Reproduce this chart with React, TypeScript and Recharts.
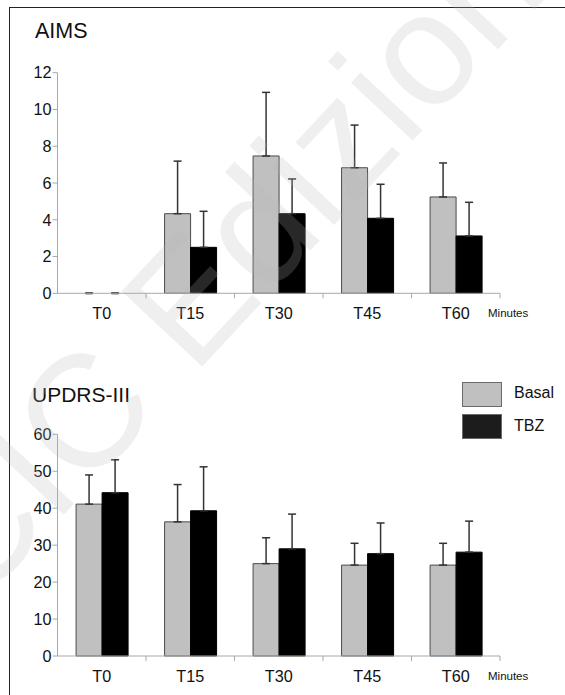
import React from 'react';
import { BarChart, Bar, XAxis, YAxis, ErrorBar, Rectangle } from 'recharts';

const categories = ['T0', 'T15', 'T30', 'T45', 'T60'];

const aimsBasal = [0, 4.33, 7.47, 6.83, 5.24];
const aimsBasalErr = [0, 2.86, 3.46, 2.32, 1.85];
const aimsTbz = [0, 2.5, 4.33, 4.08, 3.12];
const aimsTbzErr = [0, 1.96, 1.89, 1.85, 1.83];
const aimsTicks = [0, 2, 4, 6, 8, 10, 12];

const updrsBasal = [41.1, 36.3, 25.0, 24.6, 24.6];
const updrsBasalErr = [7.9, 10.1, 7.0, 5.9, 5.9];
const updrsTbz = [44.2, 39.3, 29.0, 27.7, 28.1];
const updrsTbzErr = [8.9, 11.9, 9.4, 8.3, 8.4];
const updrsTicks = [0, 10, 20, 30, 40, 50, 60];

const seriesNames = ['Basal', 'TBZ'];

const FONT = '"Liberation Sans", Arial, sans-serif';
const AXIS = '#a8a8a8';
const BASAL_FILL = '#c0c0c0';
const TBZ_FILL = '#000000';
const W = 565;
const MARGIN_LEFT = 17.5;
const MARGIN_RIGHT = 65;
const YAXIS_W = 40;
const LABEL_OFFSET = 14.5;
const TICK_FONT = 16.2;

const build = (b: number[], be: number[], t: number[], te: number[]) =>
  categories.map((c, i) => ({
    cat: c,
    basal: b[i],
    basalErr: [0, be[i]],
    tbz: t[i],
    tbzErr: [0, te[i]],
  }));

const aimsData = build(aimsBasal, aimsBasalErr, aimsTbz, aimsTbzErr);
const updrsData = build(updrsBasal, updrsBasalErr, updrsTbz, updrsTbzErr);

const band = (W - MARGIN_LEFT - MARGIN_RIGHT - YAXIS_W) / categories.length;

const CatTick = (props: any) => {
  const { x, y, payload } = props;
  const axisY = y - LABEL_OFFSET;
  return (
    <g>
      <line x1={x + band / 2} x2={x + band / 2} y1={axisY} y2={axisY + 5} stroke={AXIS} strokeWidth={1} />
      <text x={x} y={y} dy="0.71em" textAnchor="middle" fill="#111" fontSize={TICK_FONT} fontFamily={FONT}>
        {payload.value}
      </text>
    </g>
  );
};

const ValTick = (props: any) => {
  const { x, y, payload } = props;
  return (
    <text x={x} y={y} dy="0.355em" textAnchor="end" fill="#111" fontSize={TICK_FONT} fontFamily={FONT}>
      {payload.value}
    </text>
  );
};

// zero-height bars are drawn as a short dash on the baseline, as in the source figure
const BarShape = (props: any) => {
  const { x, y, width, height } = props;
  if (!height || Math.abs(height) < 0.5) {
    const cx = x + width / 2;
    return <line x1={cx - 3.5} x2={cx + 3.5} y1={y} y2={y} stroke="#555" strokeWidth={2} />;
  }
  return <Rectangle {...props} />;
};

type PanelProps = {
  data: any[];
  ticks: number[];
  height: number;
  marginTop: number;
  marginBottom: number;
};

const Panel = ({ data, ticks, height, marginTop, marginBottom }: PanelProps) => (
  <BarChart
    width={W}
    height={height}
    data={data}
    margin={{ top: marginTop, right: MARGIN_RIGHT, bottom: marginBottom, left: MARGIN_LEFT }}
    barCategoryGap="21%"
    barGap={0}
  >
    <XAxis
      dataKey="cat"
      height={30}
      tickLine={false}
      tickSize={0}
      tickMargin={LABEL_OFFSET}
      axisLine={{ stroke: AXIS, strokeWidth: 1 }}
      tick={<CatTick />}
      interval={0}
    />
    <YAxis
      width={YAXIS_W}
      domain={[ticks[0], ticks[ticks.length - 1]]}
      ticks={ticks}
      interval={0}
      tickSize={5}
      tickMargin={1}
      axisLine={{ stroke: AXIS, strokeWidth: 1 }}
      tickLine={{ stroke: AXIS, strokeWidth: 1 }}
      tick={<ValTick />}
    />
    <Bar
      dataKey="basal"
      name={seriesNames[0]}
      fill={BASAL_FILL}
      stroke="#4a4a4a"
      strokeWidth={1}
      shape={<BarShape />}
      isAnimationActive={false}
    >
      <ErrorBar dataKey="basalErr" width={4} stroke="#333" strokeWidth={1.5} direction="y" />
    </Bar>
    <Bar
      dataKey="tbz"
      name={seriesNames[1]}
      fill={TBZ_FILL}
      stroke="#000"
      strokeWidth={1}
      shape={<BarShape />}
      isAnimationActive={false}
    >
      <ErrorBar dataKey="tbzErr" width={4} stroke="#333" strokeWidth={1.5} direction="y" />
    </Bar>
  </BarChart>
);

const textStyle = (left: number, top: number, size: number): React.CSSProperties => ({
  position: 'absolute',
  left,
  top,
  fontSize: size,
  fontFamily: FONT,
  color: '#111',
  lineHeight: 1,
  whiteSpace: 'nowrap',
});

export default function App() {
  return (
    <div style={{ position: 'absolute', left: 0, top: 0, width: W, height: 695, background: '#fff', overflow: 'hidden' }}>
      <div
        style={{
          position: 'absolute',
          left: 9,
          top: 7,
          width: 700,
          height: 800,
          borderLeft: '1.5px solid #222',
          borderTop: '1.5px solid #222',
        }}
      />
      <div style={{ position: 'absolute', left: 0, top: 0 }}>
        <Panel data={aimsData} ticks={aimsTicks} height={330} marginTop={72.7} marginBottom={6.7} />
      </div>
      <div style={{ position: 'absolute', left: 0, top: 330 }}>
        <Panel data={updrsData} ticks={updrsTicks} height={365} marginTop={104.3} marginBottom={9} />
      </div>
      <div style={textStyle(35, 21, 21.5)}>AIMS</div>
      <div style={textStyle(32, 384, 21)}>UPDRS-III</div>
      <div style={textStyle(488, 307.5, 11.5)}>Minutes</div>
      <div style={textStyle(488, 671, 11.5)}>Minutes</div>
      {seriesNames.map((name, i) => (
        <React.Fragment key={name}>
          <div
            style={{
              position: 'absolute',
              left: 461.5,
              top: 381.5 + i * 32,
              width: 38,
              height: 23,
              background: i === 0 ? BASAL_FILL : '#1c1c1c',
              border: '1px solid #6a6a6a',
            }}
          />
          <div style={textStyle(514, 384.5 + i * 33, 16)}>{name}</div>
        </React.Fragment>
      ))}
      <svg width={W} height={695} style={{ position: 'absolute', left: 0, top: 0, pointerEvents: 'none' }}>
        <text
          x={0}
          y={0}
          transform="translate(-25 610) rotate(-47)"
          fontSize={160}
          fontFamily={FONT}
          fill="#b4b4b4"
          fillOpacity={0.22}
        >
          CIC Edizioni
        </text>
      </svg>
    </div>
  );
}
